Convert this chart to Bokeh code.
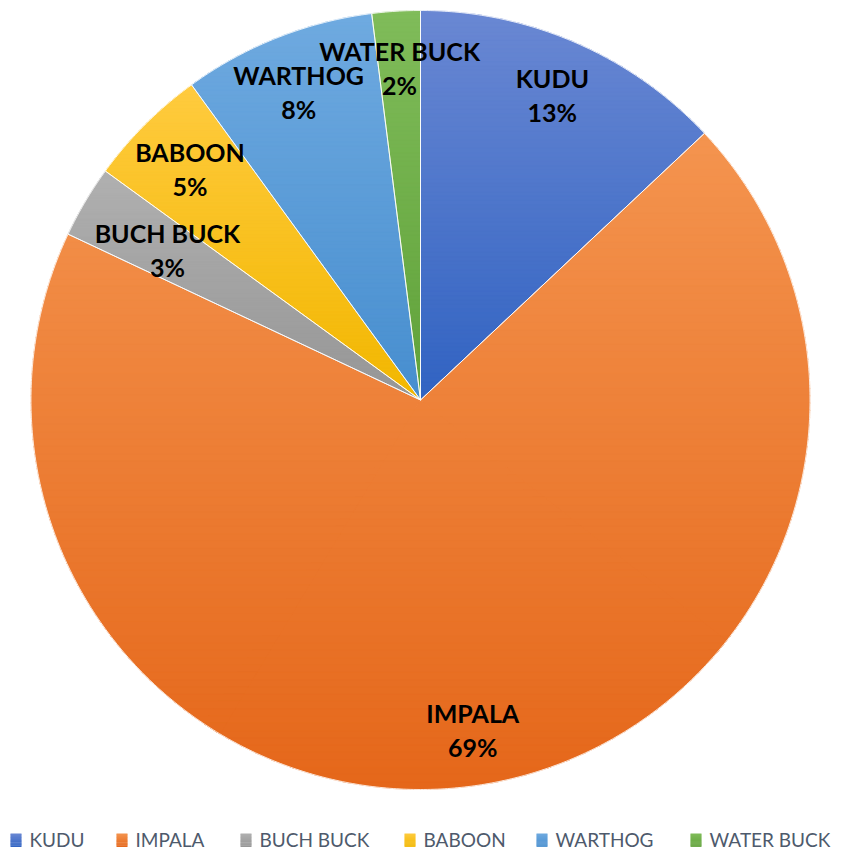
import math
from bokeh.plotting import figure
from bokeh.models import Range1d
from bokeh.core.properties import value
from bokeh.embed import file_html
from bokeh.resources import INLINE

# Share of sightings per species (percent), drawn clockwise from 12 o'clock
species = ["KUDU", "IMPALA", "BUCH BUCK", "BABOON", "WARTHOG", "WATER BUCK"]
shares = [13, 69, 3, 5, 8, 2]

# Per-slice vertical gradient: lighter at the top, deeper at the bottom
top_colors = ["#6A88D3", "#F4944F", "#B0B0B0", "#FFCB3F", "#6FAAE0", "#80BC5A"]
bottom_colors = ["#3163C2", "#E5671A", "#969696", "#F2B700", "#478ECF", "#60A23A"]

W, H = 845, 850
CX, CY, R = 420.0, 399.5, 389.5
LABEL_R = [332, 334, 294, 326, 331, 333]

p = figure(width=W, height=H, output_backend="svg", toolbar_location=None,
           x_range=Range1d(0, W), y_range=Range1d(H, 0), min_border=0)
p.axis.visible = False
p.grid.visible = False
p.outline_line_color = None
p.background_fill_color = "white"
p.border_fill_color = "white"


def hex_to_rgb(h):
    h = h.lstrip("#")
    return tuple(int(h[i:i + 2], 16) for i in (0, 2, 4))


def mix(c1, c2, t):
    a, b = hex_to_rgb(c1), hex_to_rgb(c2)
    return "#%02x%02x%02x" % tuple(round(a[i] + (b[i] - a[i]) * t) for i in range(3))


def clip(poly, y, keep_above):
    # Sutherland-Hodgman clip against a horizontal line (screen coords, y grows down)
    out = []
    n = len(poly)
    inside = (lambda q: q[1] >= y) if keep_above else (lambda q: q[1] <= y)
    for i in range(n):
        cur, prev = poly[i], poly[i - 1]
        ci, pi = inside(cur), inside(prev)
        if ci:
            if not pi:
                t = (y - prev[1]) / (cur[1] - prev[1])
                out.append((prev[0] + t * (cur[0] - prev[0]), y))
            out.append(cur)
        elif pi:
            t = (y - prev[1]) / (cur[1] - prev[1])
            out.append((prev[0] + t * (cur[0] - prev[0]), y))
    return out


def point(frac):
    a = 2 * math.pi * frac
    return CX + R * math.sin(a), CY - R * math.cos(a)


def wedge(f0, f1):
    steps = max(6, int(720 * (f1 - f0)))
    return [(CX, CY)] + [point(f0 + (f1 - f0) * k / steps) for k in range(steps + 1)]


total = float(sum(shares))
cum = 0.0
outlines = []
overlap = 0.004
for i, s in enumerate(shares):
    f0, f1 = cum / total, (cum + s) / total
    cum += s
    whole = wedge(f0, f1)
    outlines.append(whole)
    ys = [q[1] for q in whole]
    y0, y1 = min(ys), max(ys)
    # convex pieces of at most a quarter turn each (overlapping slightly inside
    # the slice so their joins leave no seam), so clipping stays clean
    npieces = max(1, math.ceil((f1 - f0) / 0.25))
    span = f1 - f0
    pieces = []
    for k in range(npieces):
        a0 = f0 + span * k / npieces - (overlap if k > 0 else 0)
        a1 = f0 + span * (k + 1) / npieces + (overlap if k < npieces - 1 else 0)
        pieces.append(wedge(a0, a1))
    nb = 90
    xs_list, ys_list, cols = [], [], []
    for b in range(nb):
        ya = y0 + (y1 - y0) * b / nb
        yb = y0 + (y1 - y0) * (b + 1) / nb
        col = mix(top_colors[i], bottom_colors[i], (b + 0.5) / nb)
        for piece in pieces:
            band = clip(clip(piece, ya - 0.6, True), yb + 0.6, False)
            if len(band) < 3:
                continue
            xs_list.append([q[0] for q in band])
            ys_list.append([q[1] for q in band])
            cols.append(col)
    # a hairline in the band's own colour hides anti-aliasing seams between bands
    p.patches(xs_list, ys_list, fill_color=cols, line_color=cols, line_width=0.6)

# thin white separators between slices
p.patches([[q[0] for q in o] for o in outlines], [[q[1] for q in o] for o in outlines],
          fill_color=None, line_color="white", line_width=0.8)

# data labels: name on one line, rounded percentage below
cum = 0.0
lx, ly_name, ly_pct, names, pcts = [], [], [], [], []
for i, s in enumerate(shares):
    mid = (cum + s / 2) / total
    cum += s
    a = 2 * math.pi * mid
    x = CX + LABEL_R[i] * math.sin(a)
    y = CY - LABEL_R[i] * math.cos(a)
    lx.append(x)
    ly_name.append(y - 17)
    ly_pct.append(y + 17)
    names.append(species[i])
    pcts.append("%d%%" % round(100 * s / total))

for ys_, txt in ((ly_name, names), (ly_pct, pcts)):
    p.text(x=lx, y=ys_, text=txt, text_align="center", text_baseline="middle",
           text_font=value("Lato"), text_font_style="bold", text_font_size="25px",
           text_color="black")

# legend row along the bottom
legend_x = [10, 116, 240, 404, 536, 690]
sq_w, sq_top, sq_bot = 11, 833, 846
for i, x in enumerate(legend_x):
    n = 12
    xs_l, ys_l, cl = [], [], []
    for b in range(n):
        ya = sq_top + (sq_bot - sq_top) * b / n
        yb = sq_top + (sq_bot - sq_top) * (b + 1) / n
        xs_l.append([x, x + sq_w, x + sq_w, x])
        ys_l.append([ya, ya, yb + 0.4, yb + 0.4])
        cl.append(mix(top_colors[i], bottom_colors[i], (b + 0.5) / n))
    p.patches(xs_l, ys_l, fill_color=cl, line_color=None)
p.text(x=[x + sq_w + 8 for x in legend_x], y=[839] * len(legend_x), text=species,
       text_align="left", text_baseline="middle", text_font=value("Lato"),
       text_font_size="19px", text_color="#4E5A6C")

open("out.html", "w").write(file_html(p, INLINE))
